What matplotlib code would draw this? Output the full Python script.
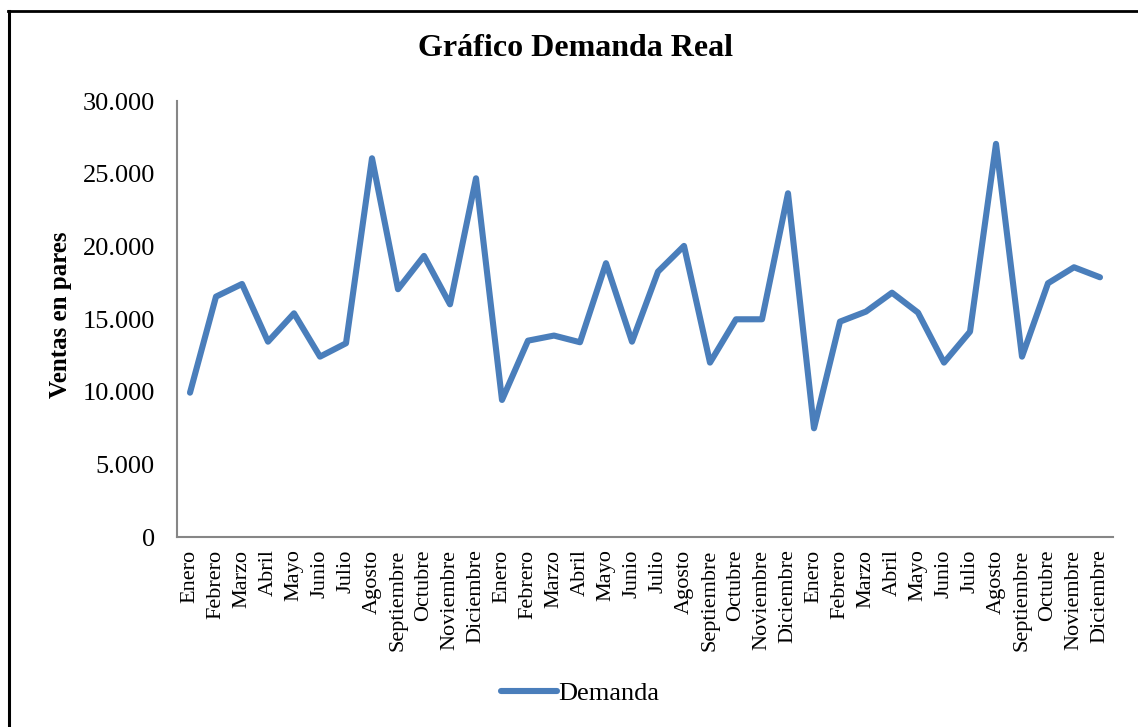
import matplotlib.pyplot as plt
from matplotlib.lines import Line2D
from matplotlib.ticker import FuncFormatter

plt.rcParams['font.family'] = ['Liberation Serif', 'DejaVu Serif']

meses = ['Enero', 'Febrero', 'Marzo', 'Abril', 'Mayo', 'Junio', 'Julio',
         'Agosto', 'Septiembre', 'Octubre', 'Noviembre', 'Diciembre']
etiquetas = meses * 3

# demanda mensual, tres años seguidos
demanda = [9930, 16540, 17410, 13440, 15390, 12410, 13330, 26060, 17050, 19340, 16010, 24680,
           9430, 13510, 13860, 13400, 18840, 13440, 18260, 20030, 12000, 14980, 14980, 23650,
           7480, 14820, 15510, 16810, 15440, 12000, 14130, 27050, 12410, 17460, 18560, 17870]

yticks = [0, 5000, 10000, 15000, 20000, 25000, 30000]

W, H = 1138, 727
fig = plt.figure(figsize=(W / 100, H / 100), dpi=100)
ax = fig.add_axes([177 / W, 1 - 537 / H, (1113 - 177) / W, (537 - 101) / H])

x = list(range(len(demanda)))
ax.plot(x, demanda, color='#4A7EBB', lw=4.4, solid_joinstyle='round',
        solid_capstyle='round')

ax.set_xlim(-0.5, len(demanda) - 0.5)
ax.set_ylim(0, 30000)
ax.set_yticks(yticks)
ax.yaxis.set_major_formatter(FuncFormatter(lambda v, p: f'{int(v):,}'.replace(',', '.')))
ax.set_xticks(x)
ax.set_xticklabels(etiquetas, rotation=90, fontsize=16, va='top', ha='center')
ax.tick_params(axis='x', length=0, pad=9)
ax.tick_params(axis='y', length=0, pad=16, labelsize=19)

for s in ['top', 'right']:
    ax.spines[s].set_visible(False)
for s in ['left', 'bottom']:
    ax.spines[s].set_color('#868686')
    ax.spines[s].set_linewidth(1.5)

fig.text(575 / W, 1 - 49 / H, 'Gráfico Demanda Real', fontsize=23, fontweight='bold',
         ha='center', va='center')
fig.text(60 / W, 1 - 315 / H, 'Ventas en pares', fontsize=18, fontweight='bold',
         rotation=90, ha='center', va='center')

handle = Line2D([], [], color='#4A7EBB', lw=4.4, solid_capstyle='round')
fig.legend([handle], ['Demanda'], loc='center', bbox_to_anchor=(580 / W, 1 - 693 / H),
           frameon=False, fontsize=19, handlelength=2.1, handletextpad=0.05)

# marco exterior (solo borde superior e izquierdo visibles)
fig.add_artist(Line2D([8 / W, 1], [1 - 10.5 / H, 1 - 10.5 / H], color='black', lw=2,
                      transform=fig.transFigure))
fig.add_artist(Line2D([9 / W, 9 / W], [0, 1 - 10.5 / H], color='black', lw=2.2,
                      transform=fig.transFigure))

fig.savefig('out.png', dpi=100)
